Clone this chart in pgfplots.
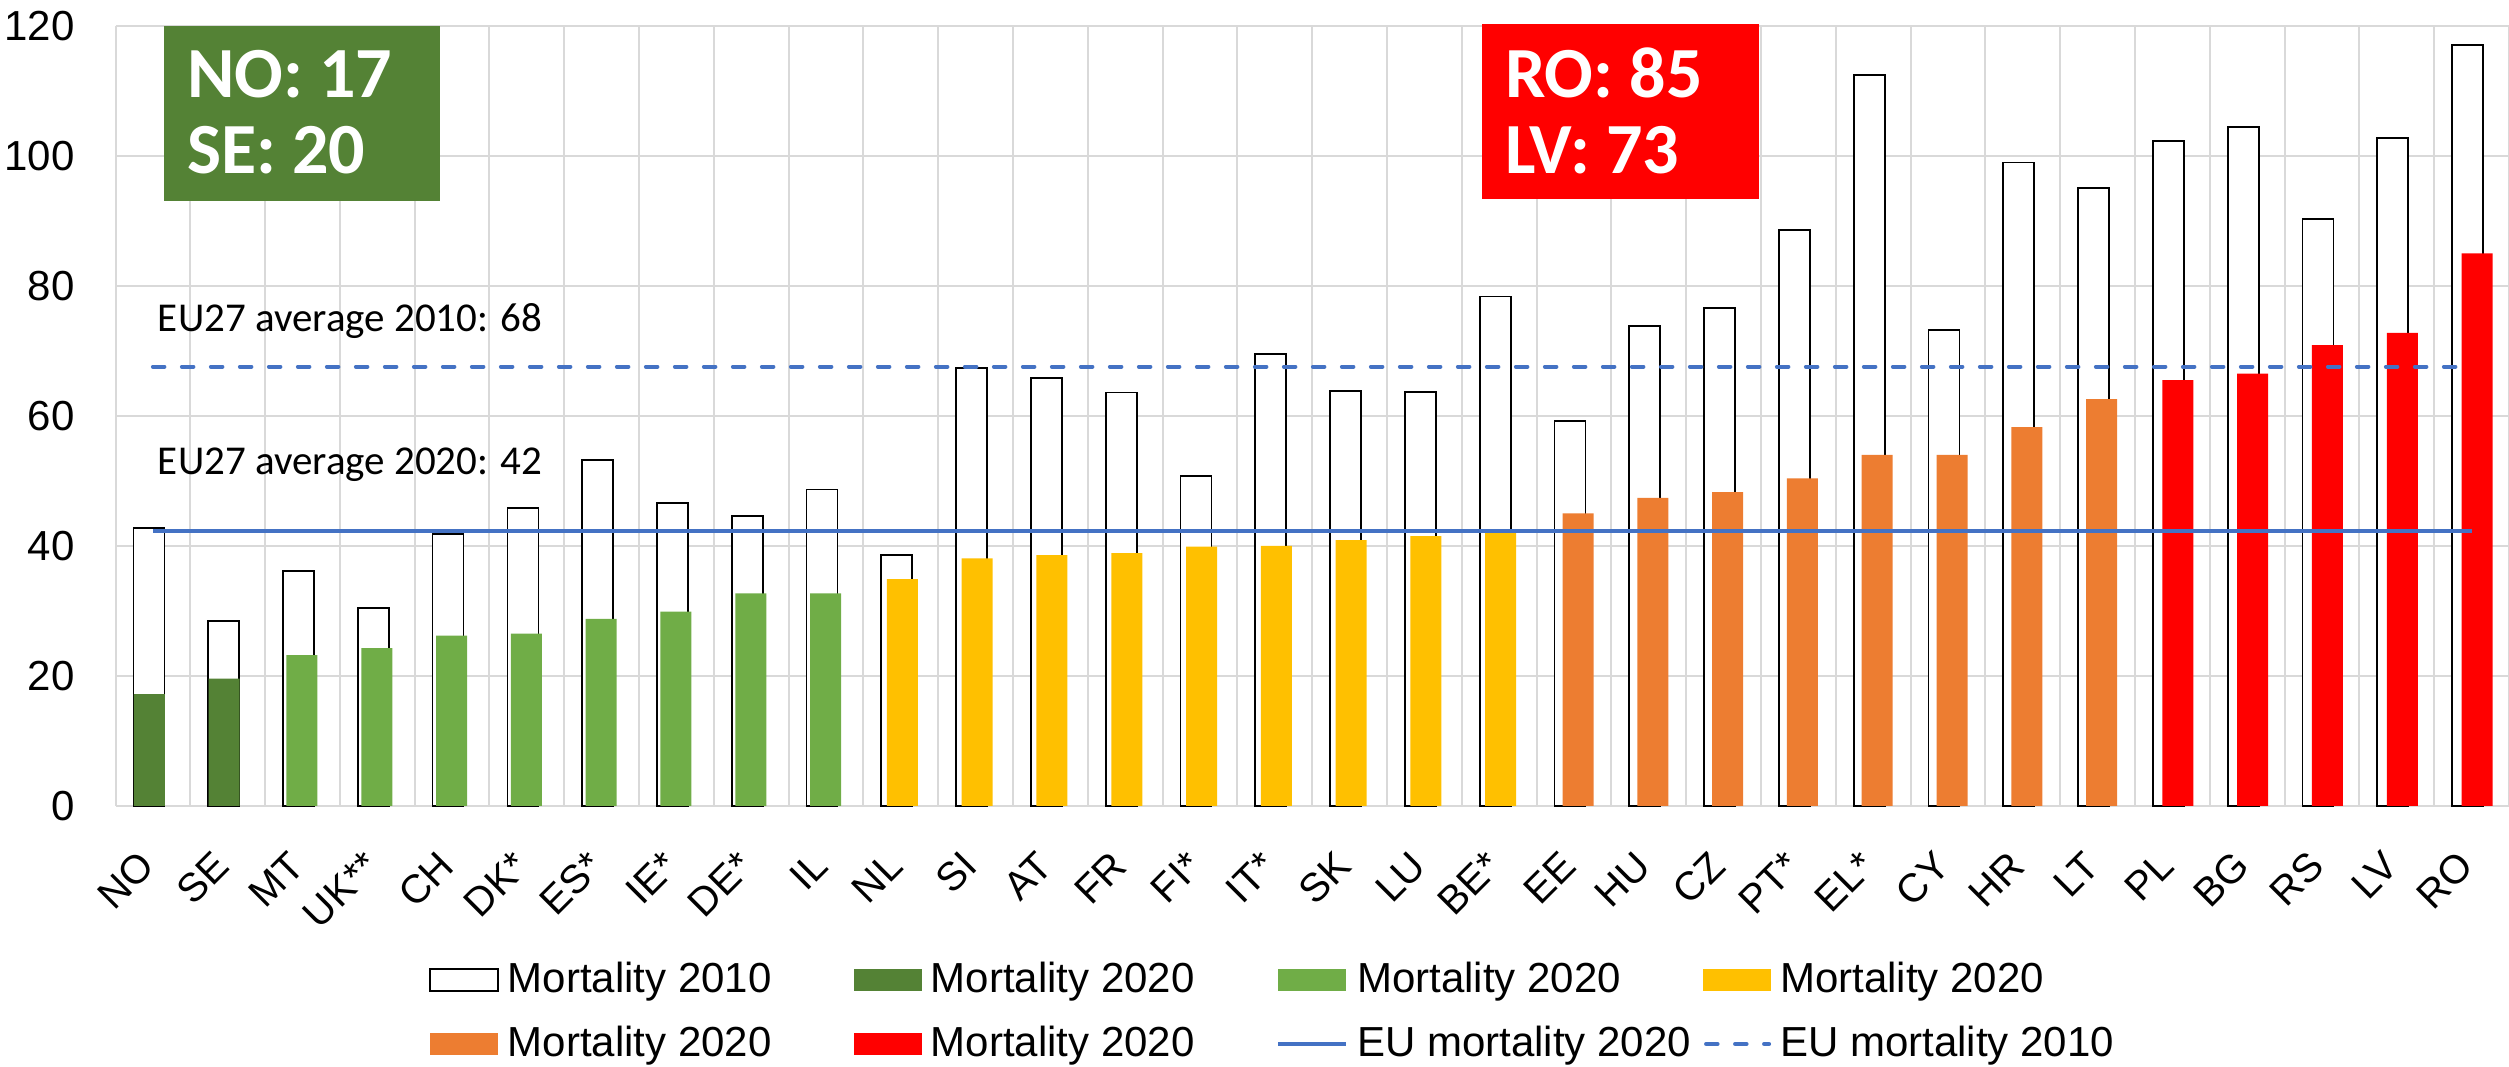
\documentclass[border=0pt]{standalone}
\usepackage{fontspec}
\setmainfont{Liberation Sans}
\newfontfamily\calibri{Carlito}
\usepackage{pgfplots}
\pgfplotsset{compat=1.18}
\definecolor{dgreen}{HTML}{548235}
\definecolor{lgreen}{HTML}{70AD47}
\definecolor{myyellow}{HTML}{FFC000}
\definecolor{myorange}{HTML}{ED7D31}
\definecolor{myred}{HTML}{FF0000}
\definecolor{eublue}{HTML}{4472C4}
\definecolor{gridgray}{HTML}{D9D9D9}
\pgfplotsset{
  boxlegend/.style={legend image code/.code={\draw[##1] (0pt,-1.7pt) rectangle (13.6pt,2.7pt);}},
  filllegend/.style={legend image code/.code={\fill[##1] (0pt,-1.7pt) rectangle (13.6pt,2.7pt);}},
  linelegend/.style={legend image code/.code={\draw[##1] (0pt,0.5pt) -- (13.6pt,0.5pt);}},
  dashlegend/.style={legend image code/.code={\draw[##1] (0.6pt,0.5pt) -- (13.2pt,0.5pt);}},
}
\begin{document}
\begin{tikzpicture}
\useasboundingbox (0,0) rectangle (501.8pt,213.4pt);
\begin{axis}[
  at={(23.1pt,52.2pt)}, anchor=south west,
  scale only axis, width=478.7pt, height=156pt,
  xmin=-0.5, xmax=31.5, ymin=0, ymax=120,
  ytick={0,20,...,120},
  xtick={0,...,31},
  xticklabels={NO,SE,MT,UK**,CH,DK*,ES*,IE*,DE*,IL,NL,SI,AT,FR,FI*,IT*,SK,LU,BE*,EE,HU,CZ,PT*,EL*,CY,HR,LT,PL,BG,RS,LV,RO},
  minor xtick={-0.5,0.5,...,31.5},
  xminorgrids=true, ymajorgrids=true, xmajorgrids=false,
  major grid style={draw=gridgray, line width=0.4pt},
  minor grid style={draw=gridgray, line width=0.4pt},
  axis line style={draw=none},
  tick style={draw=none},
  major tick length=0pt, minor tick length=0pt,
  /pgf/number format/assume math mode=true,
  yticklabel style={font=\fontsize{8.4}{10}\selectfont, anchor=east, inner sep=0pt, xshift=-8pt},
  xticklabel style={font=\fontsize{8}{9}\selectfont, xshift=-1pt, yshift=-10.5pt, rotate=45, anchor=east, inner sep=0pt},
  legend style={draw=none, fill=none, at={(0.1310,-0.2013)}, anchor=north west,
    legend columns=4, font=\fontsize{8.4}{10}\selectfont, inner sep=0pt, outer sep=0pt,
    row sep=5pt, nodes={inner sep=0pt, text height=6pt, text depth=1.8pt},
    /tikz/every odd column/.append style={column sep=1.8pt},
    /tikz/every even column/.append style={column sep=2.0pt}},
  legend cell align=left,
  clip=false,
]
% 2010
\addplot[ybar, bar width=6.2pt, bar shift=-0.8pt, fill=white, draw=black, line width=0.35pt, boxlegend]
coordinates {(0,42.8) (1,28.4) (2,36.2) (3,30.5) (4,41.8) (5,45.9) (6,53.2) (7,46.6) (8,44.6) (9,48.7)
 (10,38.6) (11,67.4) (12,65.9) (13,63.6) (14,50.8) (15,69.5) (16,63.9) (17,63.7) (18,78.4)
 (19,59.2) (20,73.8) (21,76.6) (22,88.6) (23,112.5) (24,73.2) (25,99.0) (26,95.1)
 (27,102.3) (28,104.5) (29,90.3) (30,102.8) (31,117.1)};
\addlegendentry{\makebox[67.2pt][l]{Mortality 2010}}
% 2020 dark green
\addplot[ybar, bar width=6.2pt, bar shift=-0.7pt, fill=dgreen, draw=none, filllegend]
coordinates {(0,17.2) (1,19.6)};
\addlegendentry{\makebox[67.2pt][l]{Mortality 2020}}
% light green
\addplot[ybar, bar width=6.2pt, bar shift=-0.1pt, fill=lgreen, draw=none, filllegend]
coordinates {(2,23.2) (3,24.3) (4,26.2) (5,26.5) (6,28.8) (7,29.9) (8,32.7) (9,32.7)};
\addlegendentry{\makebox[67.2pt][l]{Mortality 2020}}
% yellow
\addplot[ybar, bar width=6.2pt, bar shift=0.3pt, fill=myyellow, draw=none, filllegend]
coordinates {(10,34.9) (11,38.1) (12,38.6) (13,38.9) (14,39.9) (15,40.0) (16,40.9) (17,41.5) (18,42.1)};
\addlegendentry{\makebox[67.2pt][l]{Mortality 2020}}
% orange
\addplot[ybar, bar width=6.2pt, bar shift=0.8pt, fill=myorange, draw=none, filllegend]
coordinates {(19,45.0) (20,47.4) (21,48.3) (22,50.4) (23,54.0) (24,54.0) (25,58.3) (26,62.6)};
\addlegendentry{\makebox[67.2pt][l]{Mortality 2020}}
% red
\addplot[ybar, bar width=6.2pt, bar shift=1.1pt, fill=myred, draw=none, filllegend]
coordinates {(27,65.5) (28,66.5) (29,70.9) (30,72.8) (31,85.0)};
\addlegendentry{\makebox[67.2pt][l]{Mortality 2020}}
% EU lines
\addplot[eublue, line width=0.66pt, mark=none, linelegend]
coordinates {(0,42.3) (31,42.3)};
\addlegendentry{\makebox[67.2pt][l]{EU mortality 2020}}
\addplot[eublue, line width=0.8pt, mark=none, line cap=round, dash pattern=on 2.3pt off 3.5pt, dashlegend]
coordinates {(0,67.6) (31,67.6)};
\addlegendentry{\makebox[67.2pt][l]{EU mortality 2010}}
\end{axis}
% annotations
\node[anchor=base west, inner sep=0pt, font=\calibri\fontsize{8.2}{9}\selectfont] at (31.4pt,147.1pt) {EU27 average 2010: 68};
\node[anchor=base west, inner sep=0pt, font=\calibri\fontsize{8.2}{9}\selectfont] at (31.4pt,118.4pt) {EU27 average 2020: 42};
\fill[dgreen] (32.8pt,173.2pt) rectangle (88pt,208.2pt);
\node[anchor=base west, inner sep=0pt, text=white, font=\calibri\bfseries\fontsize{14.4}{15}\selectfont] at (37.2pt,193.8pt) {NO: 17};
\node[anchor=base west, inner sep=0pt, text=white, font=\calibri\bfseries\fontsize{14.4}{15}\selectfont] at (37.2pt,178.6pt) {SE: 20};
\fill[myred] (296.4pt,173.6pt) rectangle (351.8pt,208.6pt);
\node[anchor=base west, inner sep=0pt, text=white, font=\calibri\bfseries\fontsize{14.4}{15}\selectfont] at (300.8pt,193.9pt) {RO: 85};
\node[anchor=base west, inner sep=0pt, text=white, font=\calibri\bfseries\fontsize{14.4}{15}\selectfont] at (300.8pt,178.7pt) {LV: 73};
\end{tikzpicture}
\end{document}
